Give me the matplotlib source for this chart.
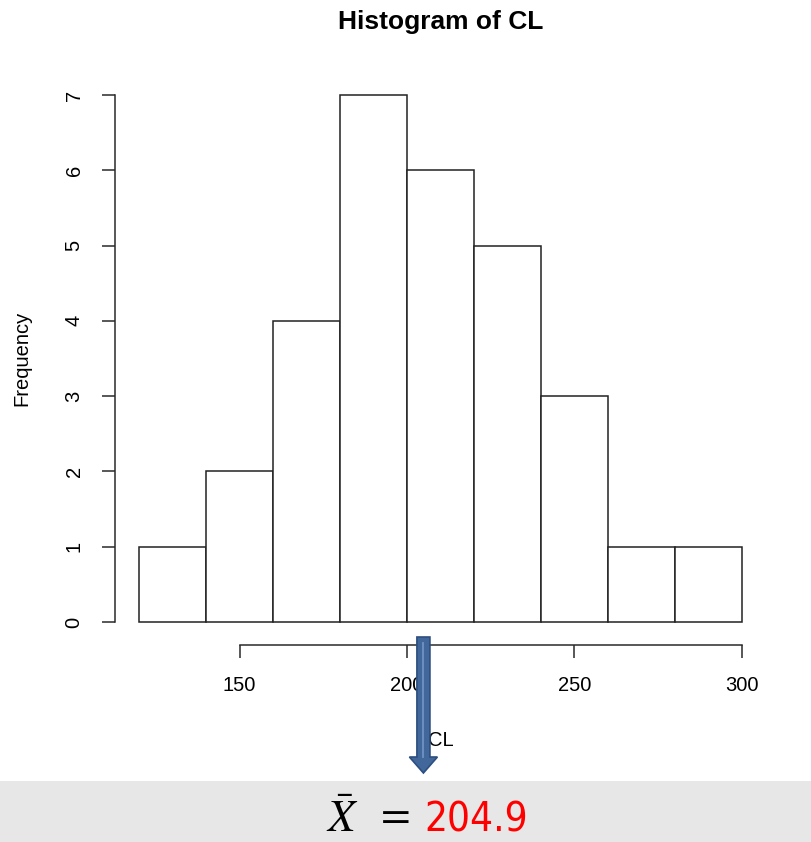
import numpy as np
import matplotlib
matplotlib.use("Agg")
import matplotlib.pyplot as plt
from matplotlib.patches import Rectangle, FancyArrow
from matplotlib.transforms import blended_transform_factory

# histogram of CL (bin edges and counts)
bin_edges = [120, 140, 160, 180, 200, 220, 240, 260, 280, 300]
counts = [1, 2, 4, 7, 6, 5, 3, 1, 1]
x_ticks = [150, 200, 250, 300]
y_ticks = [0, 1, 2, 3, 4, 5, 6, 7]
mean_cl = 204.9

plt.rcParams['font.family'] = ['Liberation Sans', 'DejaVu Sans']
plt.rcParams['mathtext.fontset'] = 'stix'

W, H = 811, 842
fig = plt.figure(figsize=(W / 100, H / 100), dpi=100)

# plot region in pixels (R style, 4% padding around the data)
left_px, right_px, top_px, bottom_px = 114.9, 766.1, 73.9, 643.1
ax = fig.add_axes([left_px / W, 1 - bottom_px / H,
                   (right_px - left_px) / W, (bottom_px - top_px) / H])

widths = np.diff(bin_edges)
ax.bar(bin_edges[:-1], counts, width=widths, align='edge',
       facecolor='white', edgecolor='#222222', linewidth=1.1)

ax.set_xlim(112.8, 307.2)
ax.set_ylim(-0.28, 7.28)

for s in ['top', 'right']:
    ax.spines[s].set_visible(False)
ax.spines['left'].set_bounds(0, 7)
ax.spines['bottom'].set_bounds(150, 300)
ax.spines['bottom'].set_position(('outward', 1.5))
for s in ['left', 'bottom']:
    ax.spines[s].set_linewidth(1.1)
    ax.spines[s].set_color('#2a2a2a')

ax.set_xticks(x_ticks)
ax.set_yticks(y_ticks)
ax.tick_params(axis='both', length=9.5, width=1.1, color='#2a2a2a',
               labelsize=14.5, pad=13)
ax.tick_params(axis='y', labelrotation=90)
for lbl in ax.get_yticklabels():
    lbl.set_va('center')

ax.set_title('Histogram of CL', fontsize=19, fontweight='bold', pad=0,
             y=(H - 22 - (H - bottom_px)) / (bottom_px - top_px))
ax.title.set_va('center')
ax.set_xlabel('CL', fontsize=14.5, labelpad=0)
ax.xaxis.set_label_coords(0.5, -(741 - bottom_px) / (bottom_px - top_px))
ax.xaxis.label.set_va('center')
ax.set_ylabel('Frequency', fontsize=14.5)
ax.yaxis.set_label_coords(-(left_px - 22) / (right_px - left_px), 0.5)
ax.yaxis.label.set_va('center')

# gray band at the bottom
fig.patches.append(Rectangle((0, 0), 1, 61 / H, transform=fig.transFigure,
                             facecolor='#e7e7e7', edgecolor='none', zorder=0))

# arrow pointing from the mean down to the value
tr = blended_transform_factory(ax.transData, fig.transFigure)
px = 3.35  # pixels per data unit on x
y_top = 1 - 637 / H
y_tip = 1 - 773 / H
arrow = FancyArrow(mean_cl, y_top, 0, y_tip - y_top, width=13 / px,
                   head_width=28 / px, head_length=16 / H,
                   length_includes_head=True, transform=tr,
                   facecolor='#41679b', edgecolor='#2d4f80', linewidth=1.2,
                   clip_on=False, zorder=5)
fig.patches.append(arrow)
fig.lines.append(plt.Line2D([mean_cl, mean_cl], [y_top - 6 / H, 1 - 757 / H],
                            transform=tr, color='#6f93c6', linewidth=1.3,
                            zorder=6))

# mean annotation
base_y = 1 - 832 / H
fig.text(326 / W, base_y, r'$\bar{X}$', fontsize=32, va='baseline', ha='left')
fig.text(374 / W, base_y + 6 / H, r'$=$', fontsize=31, va='baseline', ha='left')
fig.text(424 / W, base_y, f'{mean_cl}', fontsize=29, color='#ff0000',
         va='baseline', ha='left', stretch='condensed',
         family=['Liberation Sans Narrow', 'DejaVu Sans'])

fig.savefig('out.png', dpi=100)
